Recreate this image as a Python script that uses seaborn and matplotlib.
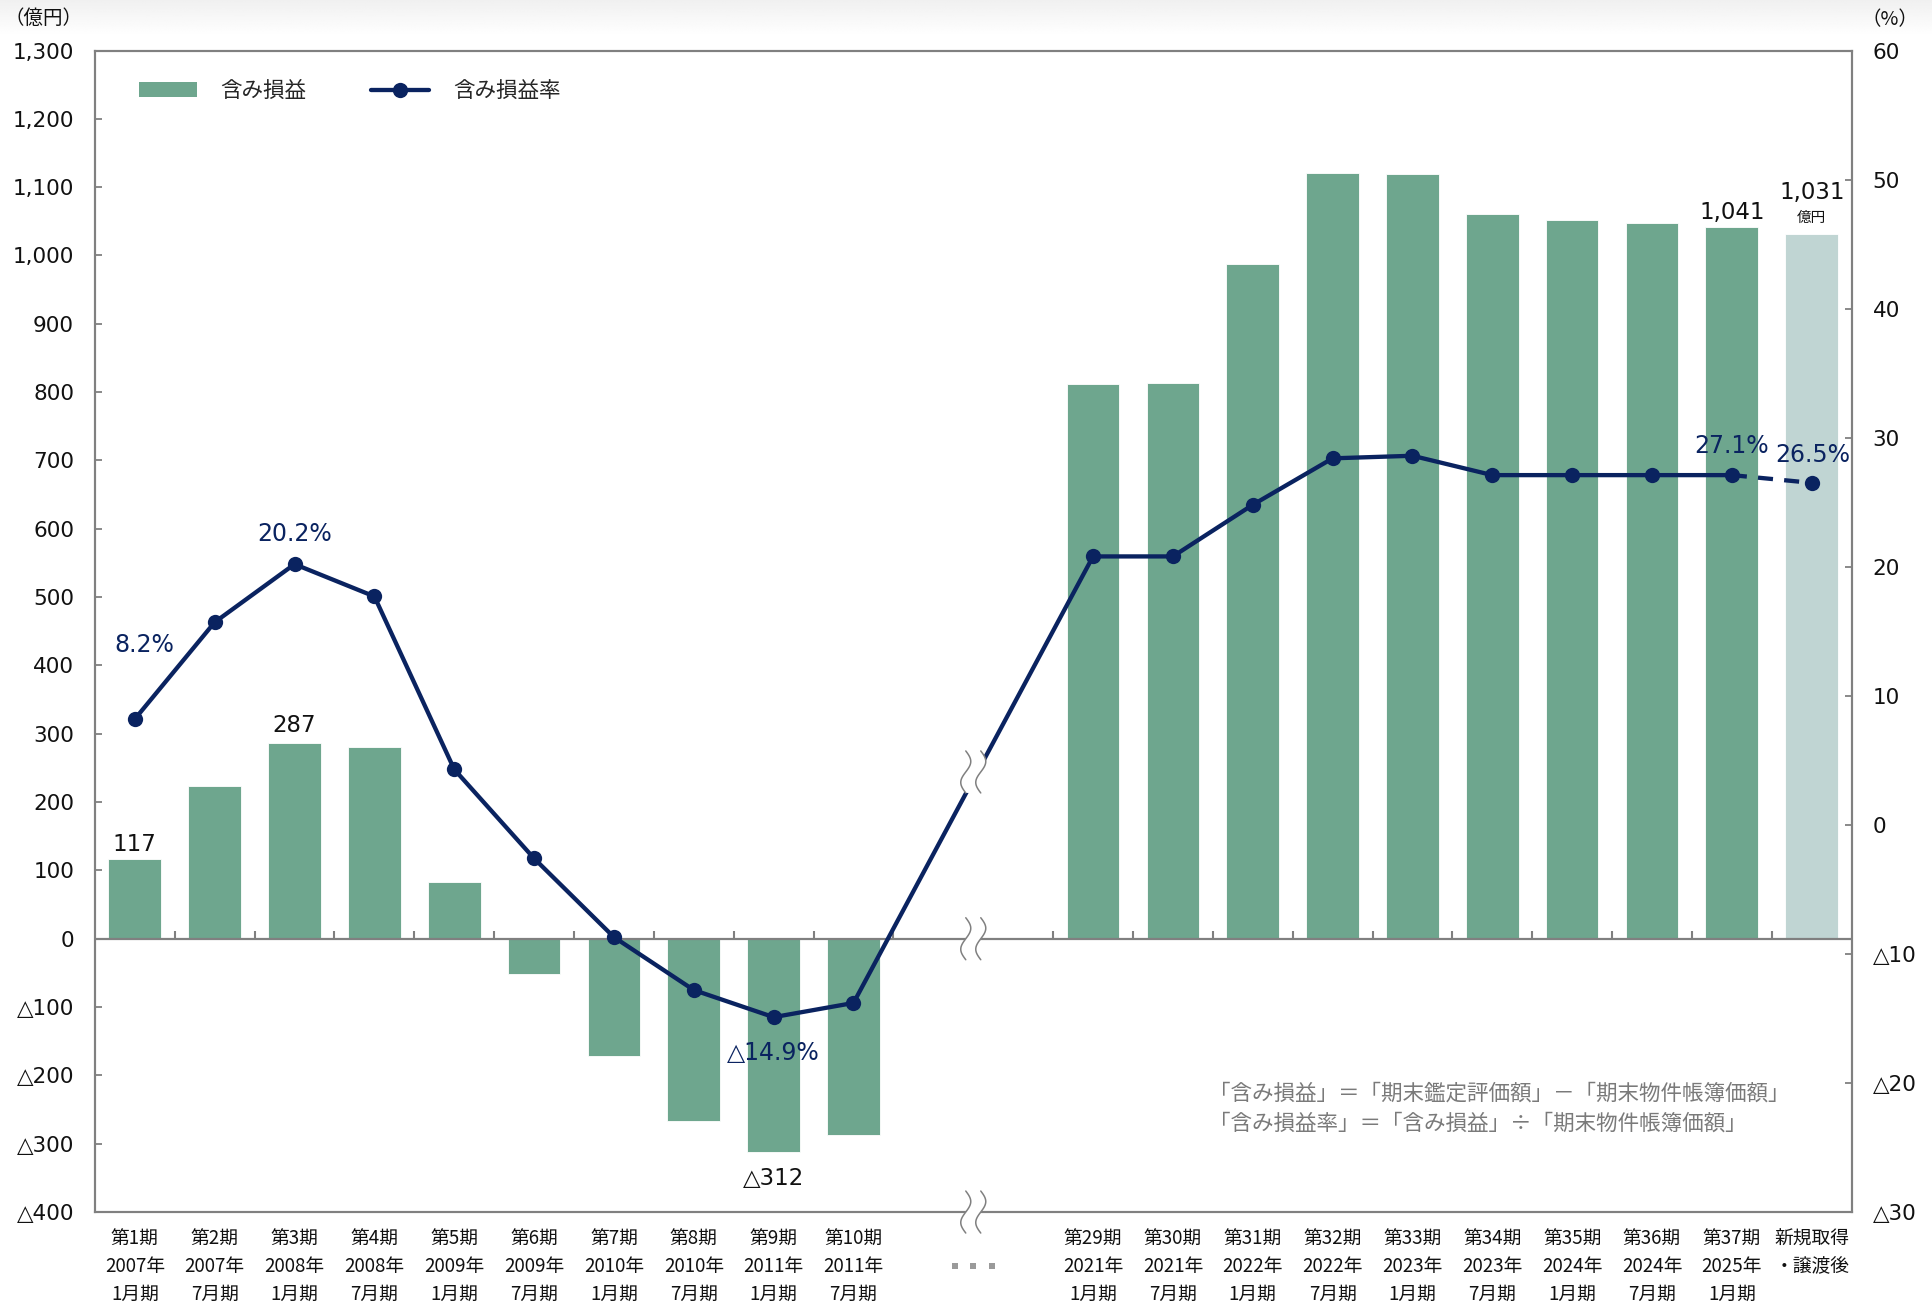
"""
含み損益 / 含み損益率 の推移チャート
"""
import matplotlib
matplotlib.use("Agg")
import matplotlib.pyplot as plt
import matplotlib.transforms as mtransforms
from matplotlib.lines import Line2D
from matplotlib.patches import Patch, Polygon
import numpy as np
import pandas as pd
import seaborn as sns

# ---------------------------------------------------------------------------
# Data
# ---------------------------------------------------------------------------
PERIODS = ["第1期", "第2期", "第3期", "第4期", "第5期", "第6期", "第7期", "第8期",
           "第9期", "第10期", "第29期", "第30期", "第31期", "第32期", "第33期",
           "第34期", "第35期", "第36期", "第37期", "新規取得"]
YEARS = ["2007年", "2007年", "2008年", "2008年", "2009年", "2009年", "2010年", "2010年",
         "2011年", "2011年", "2021年", "2021年", "2022年", "2022年", "2023年",
         "2023年", "2024年", "2024年", "2025年", "・譲渡後"]
MONTHS = ["1月期", "7月期", "1月期", "7月期", "1月期", "7月期", "1月期", "7月期",
          "1月期", "7月期", "1月期", "7月期", "1月期", "7月期", "1月期",
          "7月期", "1月期", "7月期", "1月期", ""]
GAIN = [117, 224, 287, 280, 83, -52, -171, -267, -312, -287,
        812, 814, 987, 1121, 1119, 1060, 1052, 1047, 1041, 1031]   # 億円
RATE = [8.2, 15.7, 20.2, 17.7, 4.3, -2.6, -8.7, -12.8, -14.9, -13.8,
        20.8, 20.8, 24.8, 28.4, 28.6, 27.1, 27.1, 27.1, 27.1, 26.5]  # %
KIND = ["actual"] * 19 + ["after"]

LEFT_TICKS = list(range(-400, 1301, 100))
RIGHT_TICKS = list(range(-30, 61, 10))

NOTE = "「含み損益」＝「期末鑑定評価額」－「期末物件帳簿価額」\n「含み損益率」＝「含み損益」÷「期末物件帳簿価額」"

GREEN = "#6ea68e"
LIGHT = "#c0d5d3"
NAVY = "#0a2360"
GRAY = "#808080"

sns.set_theme(style="white")
plt.rcParams["font.family"] = ["DejaVu Sans", "Noto Sans CJK JP"]


def tri(v, comma=True):
    s = f"{abs(v):,}" if comma else f"{abs(v)}"
    return ("△" + s) if v < 0 else s


def draw_break(fig, target, center_axis, x, y):
    """double wavy break mark, white-filled between the curves"""
    t = np.linspace(0, 1, 60)
    yy = (0.5 - t) * 0.42
    xx = 0.05 * np.sin(2 * np.pi * t)
    offs = (-0.075, 0.075)
    trans = fig.dpi_scale_trans + mtransforms.ScaledTranslation(x, y, center_axis.transData)
    poly = np.vstack([np.column_stack([xx + offs[0], yy]),
                      np.column_stack([xx + offs[1], yy])[::-1]])
    target.add_patch(Polygon(poly, closed=True, facecolor="white", edgecolor="none",
                             transform=trans, zorder=8, clip_on=False))
    for o in offs:
        target.add_line(Line2D(xx + o, yy, color=GRAY, lw=1.1, transform=trans,
                               zorder=9, clip_on=False))


def main():
    pos = list(range(10)) + list(range(12, 22))
    brk = 10.5
    df = pd.DataFrame({"pos": pos, "gain": GAIN, "rate": RATE, "kind": KIND})

    fig = plt.figure(figsize=(19.33, 13.02), dpi=100)

    # faint grey band at the very top
    bg = fig.add_axes([0, 0.972, 1, 0.028])
    bg.imshow(np.linspace(0.94, 1.0, 50)[:, None] * np.ones((1, 10)), cmap="gray",
              vmin=0, vmax=1, aspect="auto", extent=(0, 1, 0, 1))
    bg.axis("off")

    ax = fig.add_axes([0.0491, 0.0691, 0.9088, 0.8921])
    sns.barplot(data=df, x="pos", y="gain", hue="kind", palette={"actual": GREEN, "after": LIGHT},
                native_scale=True, dodge=False, width=0.66, saturation=1, errorbar=None,
                legend=False, edgecolor="white", linewidth=0.6, ax=ax)
    ax.axhline(0, color=GRAY, lw=1.6, zorder=3)
    bounds = [p + 0.5 for p in range(10)] + [p + 0.5 for p in range(11, 21)]
    ax.plot(bounds, [0] * len(bounds), ls="none", marker=2, markersize=6,
            markeredgewidth=1.5, color=GRAY, zorder=3)

    ax2 = ax.twinx()
    sns.lineplot(x=pos[:-1], y=RATE[:-1], color=NAVY, lw=3.1, marker="o", markersize=11,
                 markeredgewidth=0, ax=ax2, zorder=4)
    sns.lineplot(x=pos[-2:], y=RATE[-2:], color=NAVY, lw=3.1, linestyle=(0, (3.5, 2.6)),
                 ax=ax2, zorder=4)
    ax2.plot(pos[-1:], RATE[-1:], ls="none", marker="o", markersize=11,
             markeredgewidth=0, color=NAVY, zorder=5)

    # axes styling
    for a in (ax, ax2):
        for sp in a.spines.values():
            sp.set_color(GRAY)
            sp.set_linewidth(1.5)
        a.set_xlabel("")
        a.set_ylabel("")

    ax.set_yticks(LEFT_TICKS, [tri(v) for v in LEFT_TICKS])
    ax2.set_yticks(RIGHT_TICKS, [tri(v) for v in RIGHT_TICKS])
    ax.tick_params(axis="y", direction="in", length=5, width=1.3, color=GRAY,
                   labelsize=15.5, pad=15, labelcolor="#111111", left=True)
    ax2.tick_params(axis="y", direction="in", length=5, width=1.3, color=GRAY,
                    labelsize=15.5, pad=15, labelcolor="#111111", right=True)

    ax.set_xticks(pos, [f"{p}\n{y}\n{m}" for p, y, m in zip(PERIODS, YEARS, MONTHS)])
    ax.tick_params(axis="x", length=0, pad=12)
    for lab in ax.get_xticklabels():
        lab.set_fontfamily(["Noto Sans CJK JP", "DejaVu Sans"])
        lab.set_fontsize(13.5)
        lab.set_linespacing(1.4)
        lab.set_color("#111111")
    ax2.tick_params(axis="x", length=0, labelbottom=False)

    # value labels (bars)
    bar_labels = {0: (10, "117"), 2: (12, "287"), 18: (11, "1,041"), 19: (30, "1,031")}
    for i, (dy, txt) in bar_labels.items():
        ax.annotate(txt, (pos[i], GAIN[i]), xytext=(0, dy), textcoords="offset points",
                    ha="center", va="center", fontsize=16.5, color="#111111")
    ax.annotate("億円", (pos[19], GAIN[19]), xytext=(0, 12), textcoords="offset points",
                ha="center", va="center", fontsize=10.5, color="#111111",
                family=["Noto Sans CJK JP"])
    ax.annotate(tri(GAIN[8]), (pos[8], GAIN[8]), xytext=(0, -19), textcoords="offset points",
                ha="center", va="center", fontsize=16.5, color="#111111")

    # value labels (rate)
    rate_labels = {0: (7, 53), 2: (0, 22), 8: (0, -26), 18: (0, 21), 19: (1, 20)}
    for i, (dx, dy) in rate_labels.items():
        ax2.annotate(tri(RATE[i], comma=False) + "%", (pos[i], RATE[i]), xytext=(dx, dy),
                     textcoords="offset points", ha="center", va="center",
                     fontsize=17, color=NAVY, zorder=6)

    # break marks
    draw_break(fig, ax2, ax2, brk, (RATE[9] + RATE[10]) / 2 + 0.6)
    draw_break(fig, ax2, ax, brk, 0)
    draw_break(fig, ax2, ax, brk, -400)
    dots = mtransforms.blended_transform_factory(ax.transData, ax.transAxes)
    ax.scatter([brk - 0.23, brk, brk + 0.23], [-0.0467] * 3, marker="s", s=22,
               color="#9a9a9a", transform=dots, clip_on=False, linewidths=0)

    # legend
    handles = [Patch(facecolor=GREEN, edgecolor="none", label="含み損益"),
               Line2D([0], [0], color=NAVY, lw=3.1, marker="o", markersize=11,
                      markeredgewidth=0, label="含み損益率")]
    ax2.legend(handles=handles, loc="center left", bbox_to_anchor=(0.014, 0.965),
               frameon=False, ncol=2, handlelength=2.7, handletextpad=1.1,
               columnspacing=3.0, prop={"family": ["Noto Sans CJK JP"], "size": 15.5})

    ax.text(0.634, 0.089, NOTE, transform=ax.transAxes, ha="left", va="center",
            fontsize=15.5, color="#7a7a7a", linespacing=1.5,
            family=["Noto Sans CJK JP", "DejaVu Sans"])

    fig.text(0.0223, 0.986, "（億円）", ha="center", va="center", fontsize=14,
             color="#111111", family=["Noto Sans CJK JP"])
    fig.text(0.9777, 0.985, "（%）", ha="center", va="center", fontsize=14,
             color="#111111", family=["Noto Sans CJK JP", "DejaVu Sans"])

    ax.set_xlim(-0.5, 21.5)
    ax.set_ylim(-400, 1300)
    ax2.set_ylim(-30, 60)

    fig.savefig("out.png", dpi=100, facecolor="white")
    plt.close(fig)


if __name__ == "__main__":
    main()
